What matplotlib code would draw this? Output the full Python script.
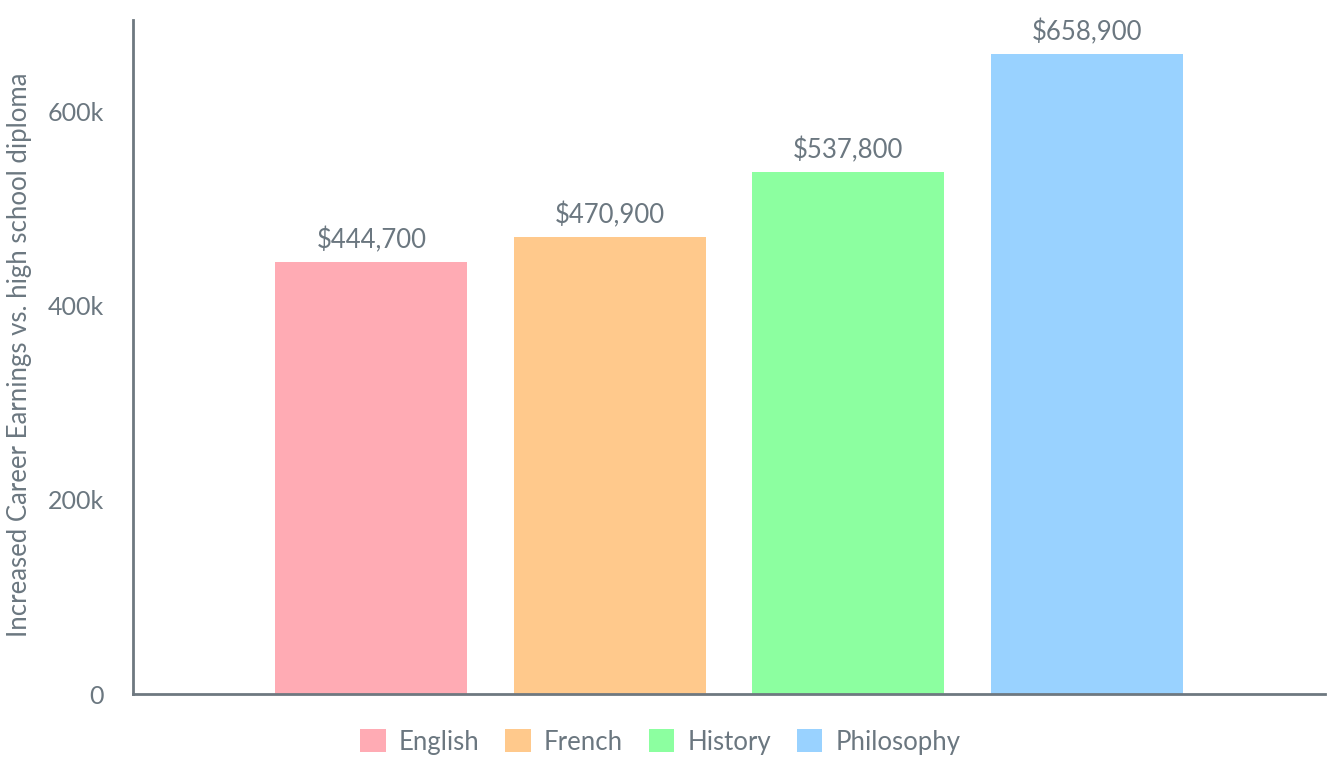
import matplotlib
matplotlib.use('Agg')
import matplotlib.pyplot as plt
from matplotlib.ticker import FuncFormatter

subjects = ["English", "French", "History", "Philosophy"]
earnings = [444700, 470900, 537800, 658900]
value_labels = ["$444,700", "$470,900", "$537,800", "$658,900"]
colors = ["#ffabb4", "#ffc98c", "#8cffa0", "#99d2ff"]
y_ticks = [0, 200000, 400000, 600000]

text_gray = "#6b7780"
axis_gray = "#6e7880"

plt.rcParams['font.family'] = ['Lato', 'DejaVu Sans']

fig = plt.figure(figsize=(13.34, 7.59), dpi=100)
ax = fig.add_axes([133 / 1334, 65 / 759, 1192 / 1334, 674 / 759])

bar_w = 0.161
step = 0.2
for i, (name, val, lab, c) in enumerate(zip(subjects, earnings, value_labels, colors)):
    x = (i - 1.5) * step
    ax.bar(x, val, width=bar_w, color=c, label=name, zorder=2)
    ax.annotate(lab, (x, val), xytext=(0, 6), textcoords='offset points',
                ha='center', va='bottom', fontsize=18.5, color=text_gray)

ax.set_xlim(-0.5, 0.5)
ax.set_ylim(0, 694000)
ax.set_xticks([])
ax.set_yticks(y_ticks)
ax.yaxis.set_major_formatter(FuncFormatter(lambda v, p: "0" if v == 0 else f"{int(v / 1000)}k"))
ax.tick_params(axis='y', length=0, pad=21, labelsize=18, labelcolor=text_gray)

for s in ['top', 'right']:
    ax.spines[s].set_visible(False)
for s in ['left', 'bottom']:
    ax.spines[s].set_color(axis_gray)
    ax.spines[s].set_linewidth(2)

ax.set_ylabel("Increased Career Earnings vs. high school diploma", fontsize=18.5,
              color=text_gray)
ax.yaxis.set_label_coords(-101 / 1192, 0.503)

fig.legend(loc='center', bbox_to_anchor=(0.495, 17 / 759), ncol=4, frameon=False,
           fontsize=18.5, labelcolor=text_gray, handlelength=1.0, handleheight=1.0,
           handletextpad=0.5, columnspacing=1.0)

plt.savefig("out.png", dpi=100)
